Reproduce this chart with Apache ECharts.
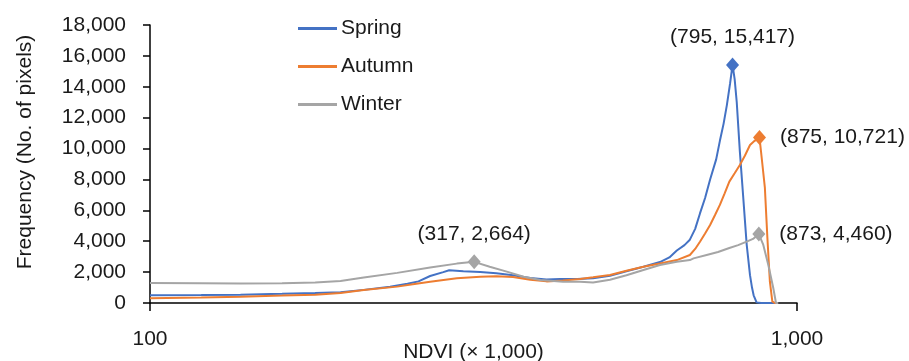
<!DOCTYPE html>
<html>
<head>
<meta charset="utf-8">
<script src="https://cdn.jsdelivr.net/npm/echarts@6/dist/echarts.min.js"></script>
<style>
  html, body { margin: 0; padding: 0; background: #fff; }
  #chart { width: 909px; height: 361px; }
</style>
</head>
<body>
<div id="chart"></div>
<script>
// NDVI (x 1,000) vs frequency
var spring = [
  [100, 500], [120, 520], [138, 540], [160, 600], [180, 650], [197, 700], [214, 850],
  [235, 1050], [250, 1250], [260, 1400], [271, 1750], [284, 2000], [290, 2120], [305, 2050],
  [324, 2000], [343, 1920], [364, 1800], [387, 1620], [410, 1520], [430, 1560], [457, 1560],
  [484, 1600], [514, 1760], [545, 2050], [579, 2350], [614, 2650], [635, 2950], [652, 3400],
  [670, 3750], [683, 4100], [696, 4800], [708, 5800], [721, 6800], [734, 8000], [750, 9300],
  [760, 10500], [770, 11600], [779, 12800], [788, 14200], [795, 15417], [801, 14500],
  [807, 13000], [816, 9800], [826, 6800], [836, 3800], [846, 1800], [852, 1000], [857, 500],
  [866, 40], [880, 0], [935, 0]
];
var autumn = [
  [100, 300], [120, 360], [138, 410], [160, 480], [180, 540], [197, 650], [214, 840],
  [241, 1060], [258, 1250], [271, 1380], [298, 1600], [324, 1700], [343, 1740], [364, 1680],
  [387, 1500], [410, 1400], [435, 1450], [462, 1550], [484, 1660], [514, 1810], [545, 2090],
  [579, 2350], [614, 2560], [652, 2780], [683, 3110], [696, 3500], [708, 3970], [721, 4500],
  [734, 5050], [747, 5700], [760, 6350], [773, 7100], [786, 7860], [801, 8400], [816, 8940],
  [831, 9550], [846, 10230], [860, 10500], [875, 10721], [884, 9000], [892, 7450], [900, 4210],
  [908, 1380], [916, 90], [925, 0], [935, 0]
];
var winter = [
  [100, 1300], [120, 1280], [138, 1260], [160, 1280], [180, 1330], [197, 1420], [214, 1650],
  [241, 1950], [271, 2300], [298, 2550], [317, 2664], [335, 2350], [356, 2030], [378, 1700],
  [401, 1490], [435, 1380], [462, 1370], [484, 1330], [514, 1500], [545, 1800], [579, 2140],
  [614, 2460], [652, 2670], [683, 2780], [692, 2890], [725, 3110], [755, 3300], [786, 3560],
  [811, 3750], [836, 3970], [855, 4150], [873, 4460], [887, 3760], [903, 2460], [919, 970],
  [928, 0], [935, 0]
];
var springPeaks = [[795, 15417]];
var autumnPeaks = [[875, 10721]];
var winterPeaks = [[317, 2664], [873, 4460]];
var yTicks = [0, 18000, 2000]; // min, max, step

var fmt = function (v) { return Math.round(v).toLocaleString('en-US'); };
var FONT = 'Liberation Sans';

function peakPoints(list, color, positions) {
  return {
    symbol: 'diamond',
    symbolSize: [13, 15],
    itemStyle: { color: color },
    label: { show: false },
    data: list.map(function (p, i) {
      return {
        coord: p,
        label: {
          show: true,
          position: positions[i],
          distance: positions[i] === 'top' ? 10 : 14,
          formatter: '(' + fmt(p[0]) + ', ' + fmt(p[1]) + ')',
          color: '#1a1a1a',
          fontSize: 21,
          fontFamily: FONT
        }
      };
    })
  };
}

function makeSeries(name, data, color, markPoint) {
  return {
    name: name,
    type: 'line',
    data: data,
    symbol: 'none',
    lineStyle: { color: color, width: 2 },
    itemStyle: { color: color },
    markPoint: markPoint,
    z: 2
  };
}

var chart = echarts.init(document.getElementById('chart'), null, { renderer: 'canvas' });

var option = {
  animation: false,
  textStyle: { fontFamily: FONT, color: '#1a1a1a' },
  grid: { left: 150, right: 112, top: 25, bottom: 58, outerBoundsMode: 'none', containLabel: false },
  legend: {
    orient: 'vertical',
    left: 293,
    top: 13,
    icon: 'rect',
    itemWidth: 39,
    itemHeight: 3,
    itemGap: 17,
    textStyle: { fontSize: 21, fontFamily: FONT, color: '#1a1a1a', padding: [0, 0, 0, -1] },
    data: ['Spring', 'Autumn', 'Winter']
  },
  xAxis: {
    type: 'log',
    logBase: 10,
    min: 100,
    max: 1000,
    name: 'NDVI (× 1,000)',
    nameLocation: 'middle',
    nameGap: 39,
    nameMoveOverlap: false,
    nameTextStyle: { fontSize: 21, fontFamily: FONT, color: '#1a1a1a' },
    axisLine: { lineStyle: { color: '#000', width: 1.5 } },
    axisTick: { show: true, length: 8, lineStyle: { color: '#000', width: 1.5 } },
    minorTick: { show: false },
    splitLine: { show: false },
    axisLabel: { fontSize: 21, fontFamily: FONT, color: '#1a1a1a', margin: 26, formatter: fmt }
  },
  yAxis: {
    type: 'value',
    min: yTicks[0],
    max: yTicks[1],
    interval: yTicks[2],
    name: 'Frequency (No. of pixels)',
    nameLocation: 'middle',
    nameGap: 114,
    nameMoveOverlap: false,
    nameTextStyle: { fontSize: 21, fontFamily: FONT, color: '#1a1a1a', padding: [0, 0, 0, 24] },
    axisLine: { show: true, lineStyle: { color: '#000', width: 1.5 } },
    axisTick: { show: true, length: 7, lineStyle: { color: '#000', width: 1.5 } },
    splitLine: { show: false },
    axisLabel: { fontSize: 21, fontFamily: FONT, color: '#1a1a1a', margin: 24, formatter: fmt }
  },
  series: [
    makeSeries('Spring', spring, '#4472C4', peakPoints(springPeaks, '#4472C4', ['top'])),
    makeSeries('Autumn', autumn, '#ED7D31', peakPoints(autumnPeaks, '#ED7D31', ['right'])),
    makeSeries('Winter', winter, '#A5A5A5', peakPoints(winterPeaks, '#A5A5A5', ['top', 'right']))
  ]
};

chart.setOption(option);
</script>
</body>
</html>
